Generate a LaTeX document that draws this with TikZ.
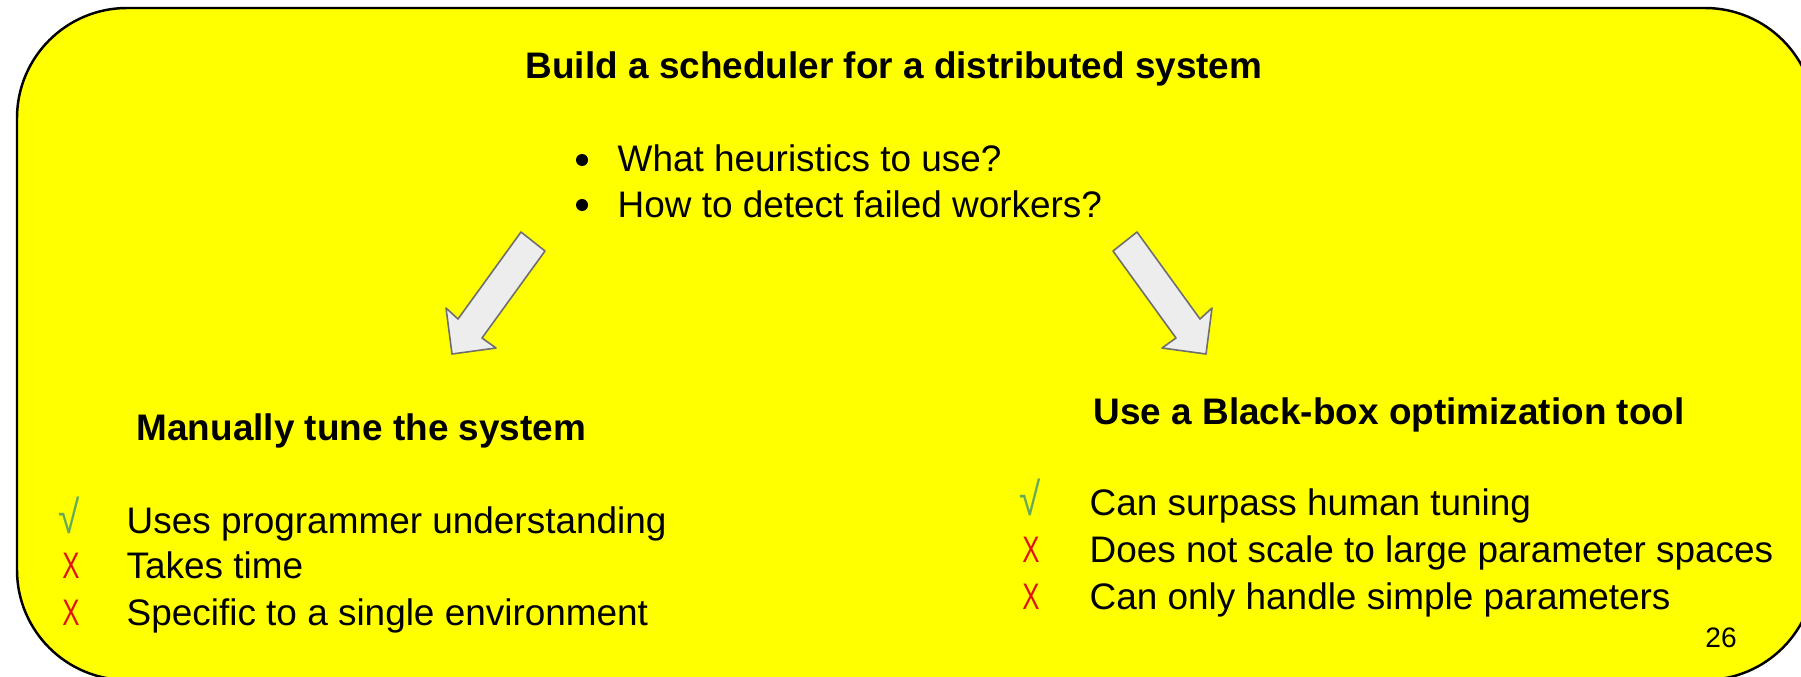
\documentclass[tikz,border=0pt]{standalone}
\usepackage{fontspec}
\usepackage{graphicx}
\setmainfont{Liberation Sans}
\usepackage{tikz}
\usetikzlibrary{positioning}

\definecolor{slideyellow}{RGB}{255,255,0}
\definecolor{arrowfill}{RGB}{237,237,237}
\definecolor{arrowline}{RGB}{110,110,110}
\definecolor{checkgreen}{RGB}{100,170,90}
\definecolor{crossred}{RGB}{220,20,20}

\newcommand{\prosign}{\textcolor{checkgreen}{\scalebox{1.05}[1.25]{√}}}
\newcommand{\consign}{\textcolor{crossred}{\scalebox{0.7}[1]{X}}}

\begin{document}
\begin{tikzpicture}[
    x=0.01cm, y=-0.01cm,
    txt/.style={font=\fontsize{10.5}{12.6}\selectfont, inner sep=0pt, anchor=base west},
    head/.style={txt, font=\fontsize{10.5}{12.6}\selectfont\bfseries},
    sign/.style={txt, anchor=base},
    dot/.style={circle, fill, inner sep=0pt, minimum size=0.12cm},
    bigarrow/.style={draw=arrowline, fill=arrowfill, line width=0.45pt, line join=round}
]
\useasboundingbox (0,0) rectangle (1801,676);
\draw[fill=slideyellow, line width=0.7pt, rounded corners=1.1cm] (17,8) rectangle (1815,680);

% question
\node[head, anchor=base] (title) at (894,79) {Build a scheduler for a distributed system};
\node[txt] (q1) at (617,172) {What heuristics to use?};
\node[txt] (q2) at (617,217) {How to detect failed workers?};
\node[dot] (b1) at (582,160) {};
\node[dot] (b2) at (582,205) {};

% the two ways
\draw[bigarrow] (521,232) -- (545,251) -- (482,338) -- (496,348) -- (452,354) -- (446,308) -- (458,319) -- cycle;
\draw[bigarrow] (1137,232) -- (1113,251) -- (1176,338) -- (1162,348) -- (1206,354) -- (1212,308) -- (1200,319) -- cycle;

% manual tuning
\node[head] (manual) at (136,440) {Manually tune the system};
\node[sign] (m1s) at (69,533) {\prosign};
\node[sign] (m2s) at (71,578) {\consign};
\node[sign] (m3s) at (71,625) {\consign};
\node[txt] (m1) at (126,533) {Uses programmer understanding};
\node[txt] (m2) at (126,578) {Takes time};
\node[txt] (m3) at (126,625) {Specific to a single environment};

% black-box tuning
\node[head] (blackbox) at (1093,424) {Use a Black-box optimization tool};
\node[sign] (k1s) at (1030,515) {\prosign};
\node[sign] (k2s) at (1031,562) {\consign};
\node[sign] (k3s) at (1031,609) {\consign};
\node[txt] (k1) at (1089,515) {Can surpass human tuning};
\node[txt] (k2) at (1089,562) {Does not scale to large parameter spaces};
\node[txt] (k3) at (1089,609) {Can only handle simple parameters};

\node[font=\fontsize{8}{9.6}\selectfont, inner sep=0pt, anchor=base] (page) at (1721,647) {26};
\end{tikzpicture}
\end{document}
